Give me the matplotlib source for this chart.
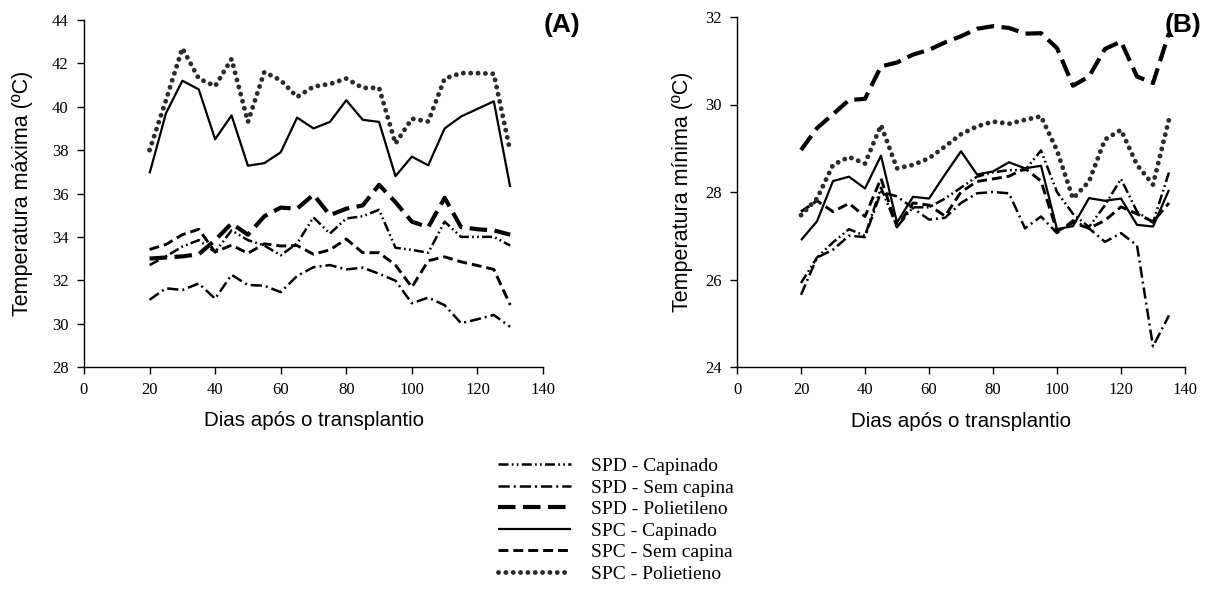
import matplotlib
matplotlib.use("Agg")
import matplotlib.pyplot as plt

# ---------------- data ----------------
days_A = [20, 25, 30, 35, 40, 45, 50, 55, 60, 65, 70, 75, 80, 85, 90, 95, 100, 105, 110, 115, 120, 125, 130]
days_B = [20, 25, 30, 35, 40, 45, 50, 55, 60, 65, 70, 75, 80, 85, 90, 95, 100, 105, 110, 115, 120, 125, 130, 135]

labels = ["SPD - Capinado", "SPD - Sem capina", "SPD - Polietileno",
          "SPC - Capinado", "SPC - Sem capina", "SPC - Polietieno"]

# Panel A: maximum temperature
A_spd_cap = [32.7, 33.1, 33.55, 33.85, 33.3, 34.3, 33.85, 33.6, 33.15, 33.7, 34.9, 34.15, 34.85, 34.95, 35.25, 33.5, 33.4, 33.27, 34.7, 34.0, 34.0, 34.0, 33.6]
A_spd_sem = [31.1, 31.63, 31.55, 31.85, 31.15, 32.25, 31.78, 31.75, 31.45, 32.2, 32.6, 32.7, 32.5, 32.58, 32.3, 31.98, 30.94, 31.2, 30.85, 30.02, 30.2, 30.4, 29.85]
A_spd_pol = [33.0, 33.05, 33.1, 33.2, 33.85, 34.62, 34.1, 34.95, 35.35, 35.3, 35.95, 35.0, 35.3, 35.45, 36.4, 35.6, 34.7, 34.45, 35.8, 34.45, 34.35, 34.3, 34.1]
A_spc_cap = [36.93, 39.7, 41.2, 40.8, 38.5, 39.6, 37.28, 37.4, 37.9, 39.5, 39.0, 39.3, 40.3, 39.4, 39.3, 36.8, 37.7, 37.3, 39.0, 39.55, 39.9, 40.25, 36.3]
A_spc_sem = [33.42, 33.65, 34.1, 34.35, 33.3, 33.62, 33.24, 33.68, 33.58, 33.6, 33.2, 33.4, 33.9, 33.27, 33.27, 32.7, 31.68, 32.9, 33.08, 32.85, 32.68, 32.5, 30.86]
A_spc_pol = [38.0, 40.3, 42.7, 41.3, 40.95, 42.2, 39.3, 41.6, 41.22, 40.45, 40.93, 41.05, 41.3, 40.87, 40.87, 38.3, 39.45, 39.32, 41.3, 41.55, 41.55, 41.52, 37.95]

# Panel B: minimum temperature
B_spd_cap = [25.92, 26.5, 26.85, 27.15, 27.0, 28.1, 27.2, 27.65, 27.65, 27.85, 28.1, 28.35, 28.45, 28.5, 28.5, 28.95, 28.0, 27.5, 27.2, 27.7, 28.3, 27.55, 27.3, 28.45]
B_spd_sem = [25.65, 26.5, 26.68, 27.0, 26.97, 28.0, 27.9, 27.63, 27.37, 27.41, 27.75, 27.97, 28.0, 27.97, 27.17, 27.44, 27.06, 27.35, 27.17, 26.86, 27.06, 26.78, 24.47, 25.18]
B_spd_pol = [28.96, 29.46, 29.78, 30.1, 30.13, 30.87, 30.96, 31.14, 31.25, 31.42, 31.56, 31.73, 31.79, 31.75, 31.62, 31.63, 31.29, 30.43, 30.64, 31.27, 31.44, 30.64, 30.49, 31.63]
B_spc_cap = [26.9, 27.33, 28.25, 28.35, 28.08, 28.83, 27.3, 27.89, 27.85, 28.4, 28.93, 28.4, 28.47, 28.68, 28.54, 28.6, 27.15, 27.22, 27.86, 27.8, 27.85, 27.25, 27.21, 28.05]
B_spc_sem = [27.55, 27.8, 27.55, 27.74, 27.44, 28.31, 27.2, 27.75, 27.7, 27.45, 28.0, 28.24, 28.3, 28.36, 28.54, 28.25, 27.1, 27.3, 27.17, 27.35, 27.66, 27.5, 27.32, 27.75]
B_spc_pol = [27.47, 27.85, 28.62, 28.8, 28.65, 29.53, 28.54, 28.62, 28.77, 29.04, 29.32, 29.5, 29.61, 29.56, 29.65, 29.73, 28.95, 27.85, 28.24, 29.2, 29.42, 28.62, 28.17, 29.66]

xticks = [0, 20, 40, 60, 80, 100, 120, 140]
yticks_A = [28, 30, 32, 34, 36, 38, 40, 42, 44]
yticks_B = [24, 26, 28, 30, 32]

# ---------------- styles ----------------
styles = [
    dict(color="black", lw=1.8, linestyle=(0, (4, 1.3, 0.7, 1.3, 0.7, 1.3))),   # SPD Capinado
    dict(color="black", lw=1.8, linestyle=(0, (4.5, 1.6, 0.8, 1.6))),           # SPD Sem capina
    dict(color="black", lw=3.0, linestyle=(0, (4.2, 1.8))),                     # SPD Polietileno
    dict(color="black", lw=1.6, linestyle="-"),                                 # SPC Capinado
    dict(color="black", lw=2.1, linestyle=(0, (3.4, 1.7))),                     # SPC Sem capina
    dict(color="#2b2b2b", lw=3.5, linestyle=(0, (0.01, 1.5)),
         dash_capstyle="round"),                                                # SPC Polietileno
]

serif = ["Liberation Serif", "DejaVu Serif"]
sans = ["Liberation Sans", "DejaVu Sans"]

fig = plt.figure(figsize=(12.06, 6.09), dpi=100)
W, H = 1206, 609

def make_ax(x0, x1, ytop, ybot):
    return fig.add_axes([x0 / W, 1 - ybot / H, (x1 - x0) / W, (ybot - ytop) / H])

axA = make_ax(84, 543, 20, 367)
axB = make_ax(737, 1185, 17, 367)

seriesA = [A_spd_cap, A_spd_sem, A_spd_pol, A_spc_cap, A_spc_sem, A_spc_pol]
seriesB = [B_spd_cap, B_spd_sem, B_spd_pol, B_spc_cap, B_spc_sem, B_spc_pol]

handles = []
for vals, lab, st in zip(seriesA, labels, styles):
    h, = axA.plot(days_A, vals, label=lab, solid_capstyle="butt", **st)
    handles.append(h)
for vals, st in zip(seriesB, styles):
    axB.plot(days_B, vals, solid_capstyle="butt", **st)

for ax, yt, ylab, lx in [(axA, yticks_A, "Temperatura máxima (ºC)", -0.112),
                         (axB, yticks_B, "Temperatura mínima (ºC)", -0.098)]:
    ax.set_xlim(0, 140)
    ax.set_ylim(yt[0], yt[-1])
    ax.set_xticks(xticks)
    ax.set_yticks(yt)
    ax.set_xticklabels([str(v) for v in xticks], family=serif, fontsize=12)
    ax.set_yticklabels([str(v) for v in yt], family=serif, fontsize=12)
    ax.spines["top"].set_visible(False)
    ax.spines["right"].set_visible(False)
    for s in ("left", "bottom"):
        ax.spines[s].set_linewidth(1.0)
    ax.tick_params(direction="out", length=5, width=1.0, pad=6)
    ax.set_xlabel("Dias após o transplantio", family=sans, fontsize=14.8)
    ax.set_ylabel(ylab, family=sans, fontsize=15.5)
    ax.xaxis.set_label_coords(0.5, -0.128)
    ax.yaxis.set_label_coords(lx, 0.5)

fig.text(580 / W, 1 - 25 / H, "(A)", family=sans, fontsize=19, fontweight="bold",
         ha="right", va="center")
fig.text(1165 / W, 1 - 25 / H, "(B)", family=sans, fontsize=19, fontweight="bold",
         ha="left", va="center")

leg = fig.legend(handles=handles, labels=labels, loc="center",
                 bbox_to_anchor=(616 / W, 1 - 520 / H), frameon=False,
                 prop={"family": serif, "size": 14}, handlelength=3.75,
                 handletextpad=1.0, labelspacing=0.2, borderpad=0)

fig.savefig("out.png", dpi=100)
